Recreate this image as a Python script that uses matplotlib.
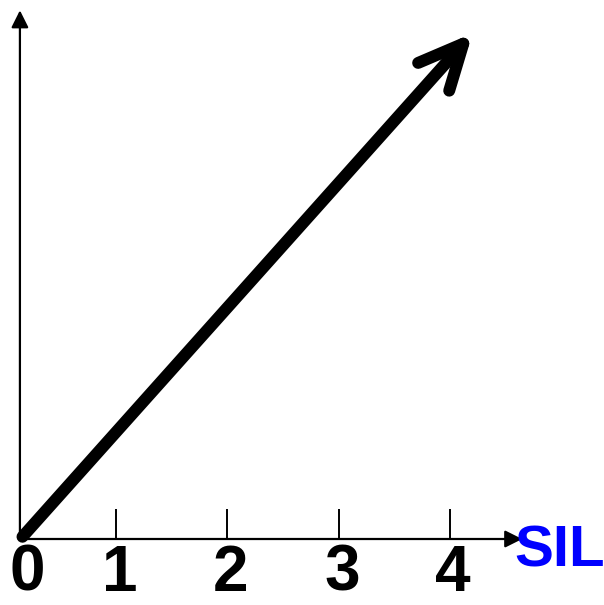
import matplotlib
matplotlib.use("Agg")
import matplotlib.pyplot as plt
from matplotlib.patches import FancyArrowPatch

# tick positions and labels along the SIL axis
tick_pos = [1, 2, 3, 4]
tick_labels = ['1', '2', '3', '4']
zero_label_x = 0.2

# axis origin and ends
origin = (0.137, 0.0)
x_axis_end = 4.65
y_axis_end = 4.75

# the thick vector
vec_start = (0.16, 0.02)
vec_end = (4.205, 4.545)

fig = plt.figure(figsize=(6.04, 6.05), dpi=100)
ax = fig.add_axes([0, 0, 1, 1])
ax.set_xlim(-0.042, 5.385)
ax.set_ylim(-0.593, 4.843)
ax.axis('off')

# axes with filled arrow heads
ax.annotate('', xy=(x_axis_end, origin[1]), xytext=origin,
            arrowprops=dict(arrowstyle='-|>', color='black', lw=1.6,
                            mutation_scale=26, shrinkA=0, shrinkB=0))
ax.annotate('', xy=(origin[0], y_axis_end), xytext=origin,
            arrowprops=dict(arrowstyle='-|>', color='black', lw=1.6,
                            mutation_scale=26, shrinkA=0, shrinkB=0))

# ticks
ax.vlines(tick_pos, 0, 0.27, color='black', lw=1.4)

# labels
lab_font = dict(family='Liberation Sans', fontweight='bold',
                fontsize=46, ha='center', va='baseline')
ax.text(zero_label_x, -0.465, '0', **lab_font)
for p, t in zip(tick_pos, tick_labels):
    ax.text(p + 0.03, -0.465, t, **lab_font)

ax.text(4.58, -0.25, 'SIL', color='#0000ff', family='Liberation Sans',
        fontweight='bold', fontsize=42, ha='left', va='baseline')

# main vector
arr = FancyArrowPatch(vec_start, vec_end,
                      arrowstyle='->,head_length=3.2,head_width=1.5',
                      mutation_scale=10, lw=8.6, color='black',
                      capstyle='round', joinstyle='round',
                      shrinkA=0, shrinkB=0)
ax.add_patch(arr)

plt.savefig('out.png', dpi=100)
plt.close()
